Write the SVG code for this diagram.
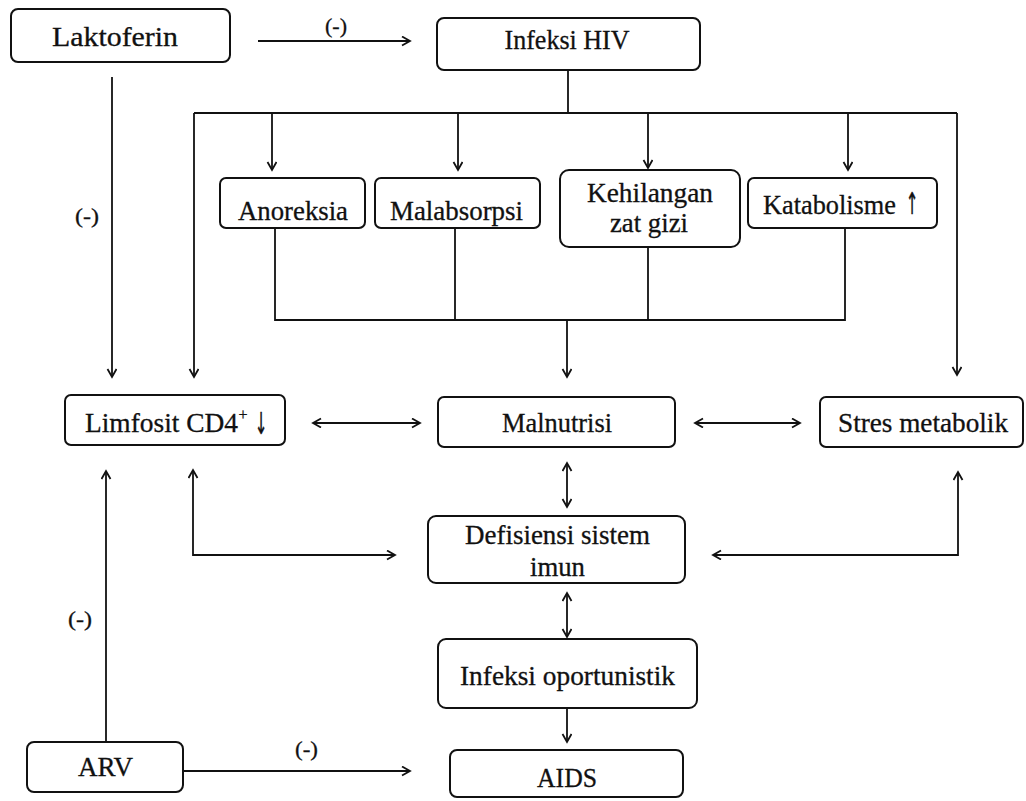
<svg xmlns="http://www.w3.org/2000/svg" width="1026" height="801" viewBox="0 0 1026 801">
<style>
.box{fill:#fff;stroke:#111;stroke-width:2}
.t{font-family:"Liberation Serif","Times New Roman",serif;font-size:27px;fill:#111;stroke:#111;stroke-width:0.3;text-anchor:middle}
.ar{font-family:"DejaVu Sans",sans-serif;font-size:30px;fill:#111;stroke:#111;stroke-width:0.5;text-anchor:middle}
.lbl{font-family:"Liberation Serif","Times New Roman",serif;font-size:22px;fill:#111;stroke:#111;stroke-width:0.3;text-anchor:middle}
.c{fill:none;stroke:#111;stroke-width:1.8}
.a{marker-end:url(#ah)}
.d{marker-start:url(#ah);marker-end:url(#ah)}
</style>
<defs>
<marker id="ah" markerUnits="userSpaceOnUse" markerWidth="12" markerHeight="12" refX="9" refY="5" orient="auto-start-reverse">
<path d="M1,0.5 L9,5 L1,9.5" fill="none" stroke="#111" stroke-width="1.8"/>
</marker>
</defs>
<rect width="1026" height="801" fill="#fff"/>
<g id="connectors">
<path class="c a" d="M258,41 H410"/>
<path class="c a" d="M112,77 V377"/>
<path class="c" d="M568,70 V113"/>
<path class="c" d="M194,113 H957"/>
<path class="c a" d="M194,113 V377"/>
<path class="c a" d="M957,113 V375"/>
<path class="c a" d="M272,113 V170"/>
<path class="c a" d="M458,113 V170"/>
<path class="c a" d="M648,113 V168"/>
<path class="c a" d="M848,113 V170"/>
<path class="c" d="M275,228 V320 H845 V228"/>
<path class="c" d="M455,228 V320"/>
<path class="c" d="M648,247 V320"/>
<path class="c a" d="M567,320 V377"/>
<path class="c d" d="M313,423 H420"/>
<path class="c d" d="M695,423 H800"/>
<path class="c d" d="M567,463 V507"/>
<path class="c d" d="M567,593 V637"/>
<path class="c a" d="M567,708 V742"/>
<path class="c d" d="M193,470 V555 H395"/>
<path class="c d" d="M958,472 V555 H713"/>
<path class="c a" d="M106,742 V471"/>
<path class="c a" d="M183,771 H410"/>
<text class="lbl" x="336" y="33" textLength="22" lengthAdjust="spacingAndGlyphs">(-)</text>
<text class="lbl" x="87" y="223" textLength="24" lengthAdjust="spacingAndGlyphs">(-)</text>
<text class="lbl" x="80" y="626" textLength="24" lengthAdjust="spacingAndGlyphs">(-)</text>
<text class="lbl" x="306.5" y="756" textLength="23" lengthAdjust="spacingAndGlyphs">(-)</text>
</g>
<g id="laktoferin"><rect class="box" x="11" y="9" width="219" height="53" rx="7"/><text class="t" x="115" y="46" textLength="126" lengthAdjust="spacingAndGlyphs">Laktoferin</text></g>
<g id="infeksi-hiv"><rect class="box" x="437" y="18" width="263" height="52" rx="7"/><text class="t" x="567" y="49" textLength="125" lengthAdjust="spacingAndGlyphs">Infeksi HIV</text></g>
<g id="anoreksia"><rect class="box" x="220" y="178" width="145" height="50" rx="6"/><text class="t" x="293" y="220" textLength="110" lengthAdjust="spacingAndGlyphs">Anoreksia</text></g>
<g id="malabsorpsi"><rect class="box" x="375" y="178" width="165" height="50" rx="6"/><text class="t" x="456.5" y="220" textLength="133" lengthAdjust="spacingAndGlyphs">Malabsorpsi</text></g>
<g id="kehilangan"><rect class="box" x="560" y="170" width="180" height="77" rx="9"/><text class="t" x="650" y="202" textLength="126" lengthAdjust="spacingAndGlyphs">Kehilangan</text><text class="t" x="649" y="232" textLength="78" lengthAdjust="spacingAndGlyphs">zat gizi</text></g>
<g id="katabolisme"><rect class="box" x="748" y="178" width="189" height="50" rx="6"/><text class="t" x="763" y="214" style="text-anchor:start" textLength="133" lengthAdjust="spacingAndGlyphs">Katabolisme</text><text class="ar" transform="translate(912,214) scale(0.5,1)">↑</text></g>
<g id="limfosit"><rect class="box" x="65" y="395" width="220" height="50" rx="6"/><text class="t" x="85" y="432" style="text-anchor:start" textLength="153" lengthAdjust="spacingAndGlyphs">Limfosit CD4</text><text class="t" x="243" y="420" style="font-size:16px">+</text><text class="ar" transform="translate(261,434) scale(0.5,1)">↓</text></g>
<g id="malnutrisi"><rect class="box" x="438" y="397" width="237" height="50" rx="6"/><text class="t" x="557" y="432" textLength="110" lengthAdjust="spacingAndGlyphs">Malnutrisi</text></g>
<g id="stres"><rect class="box" x="820" y="397" width="203" height="50" rx="6"/><text class="t" x="923" y="432" textLength="170" lengthAdjust="spacingAndGlyphs">Stres metabolik</text></g>
<g id="defisiensi"><rect class="box" x="428" y="516" width="257" height="67" rx="8"/><text class="t" x="557.5" y="544" textLength="185" lengthAdjust="spacingAndGlyphs">Defisiensi sistem</text><text class="t" x="557.5" y="576" textLength="55" lengthAdjust="spacingAndGlyphs">imun</text></g>
<g id="infeksi-oportunistik"><rect class="box" x="438" y="639" width="259" height="69" rx="8"/><text class="t" x="567.5" y="685" textLength="215" lengthAdjust="spacingAndGlyphs">Infeksi oportunistik</text></g>
<g id="aids"><rect class="box" x="450" y="750" width="233" height="47" rx="7"/><text class="t" x="567" y="787" textLength="60" lengthAdjust="spacingAndGlyphs">AIDS</text></g>
<g id="arv"><rect class="box" x="27" y="742" width="156" height="50" rx="7"/><text class="t" x="105.5" y="776" textLength="55" lengthAdjust="spacingAndGlyphs">ARV</text></g>
</svg>
